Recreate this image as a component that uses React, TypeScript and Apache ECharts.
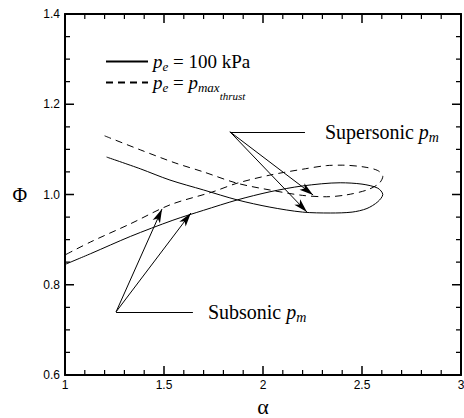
import React, { useEffect, useRef } from "react";
import * as echarts from "echarts";

// Curve with p_e = 100 kPa (solid): [alpha, Phi]
const solidCurve: number[][] = [
  [1.21, 1.083], [1.38, 1.057], [1.53, 1.032], [1.70, 1.010], [1.87, 0.988],
  [2.035, 0.972], [2.20, 0.961], [2.34, 0.959], [2.45, 0.961], [2.525, 0.969],
  [2.58, 0.984], [2.605, 1.0], [2.58, 1.014], [2.50, 1.023], [2.39, 1.026],
  [2.20, 1.019], [2.035, 1.006], [1.87, 0.988], [1.70, 0.965], [1.545, 0.943],
  [1.33, 0.907], [1.13, 0.869], [1.0, 0.845],
];

// Curve with p_e = p_max_thrust (dashed)
const dashedCurve: number[][] = [
  [1.20, 1.130], [1.38, 1.099], [1.556, 1.070], [1.70, 1.050], [1.869, 1.025],
  [2.035, 1.010], [2.20, 0.998], [2.32, 0.995], [2.42, 0.999], [2.525, 1.010],
  [2.585, 1.024], [2.605, 1.040], [2.58, 1.053], [2.51, 1.061], [2.40, 1.065],
  [2.32, 1.064], [2.20, 1.056], [2.035, 1.043], [1.869, 1.025], [1.747, 1.006],
  [1.53, 0.977], [1.33, 0.935], [1.13, 0.895], [1.0, 0.866],
];

// Annotations: origin, leader end, arrow tips
const superOrigin = [1.833, 1.139];
const superLeaderEnd = [2.212, 1.139];
const superTips = [[2.222, 0.961], [2.253, 0.999]];
const subOrigin = [1.258, 0.74];
const subLeaderEnd = [1.646, 0.74];
const subTips = [[1.49, 0.968], [1.636, 0.959]];

// Ticks and tick labels
const xTickValues = [1, 1.5, 2, 2.5, 3];
const xTickLabels = ["1", "1.5", "2", "2.5", "3"];
const xMinorTicks = [1.1, 1.2, 1.3, 1.4, 1.6, 1.7, 1.8, 1.9, 2.1, 2.2, 2.3, 2.4, 2.6, 2.7, 2.8, 2.9];
const yTickValues = [0.6, 0.8, 1.0, 1.2, 1.4];
const yTickLabels = ["0.6", "0.8", "1.0", "1.2", "1.4"];
const yMinorTicks = [0.65, 0.7, 0.75, 0.85, 0.9, 0.95, 1.05, 1.1, 1.15, 1.25, 1.3, 1.35];

const X_MIN = 1, X_MAX = 3, Y_MIN = 0.6, Y_MAX = 1.4;

const seriesNames = ["pe100", "pemax"];

const SERIF = "Liberation Serif";
const SANS = "Liberation Sans";

// plot box (px)
const G_LEFT = 65, G_RIGHT = 3, G_TOP = 14, G_BOTTOM = 43;
const G_W = 464 - G_LEFT - G_RIGHT;
const G_H = 418 - G_TOP - G_BOTTOM;

const lookup = (vals: number[], labels: string[]) => (v: number) => {
  const i = vals.findIndex((t) => Math.abs(t - v) < 1e-6);
  return i >= 0 ? labels[i] : "";
};

const LH = 15;
const rich = (size: number) => {
  const sF = Math.round(size * 0.68);
  const ssF = Math.round(size * 0.58);
  return {
    t: { fontFamily: SERIF, fontSize: size, lineHeight: LH, color: "#000" },
    i: { fontFamily: SERIF, fontSize: size, lineHeight: LH, fontStyle: "italic", color: "#000" },
    s: {
      fontFamily: SERIF, fontSize: sF, lineHeight: 1, fontStyle: "italic", color: "#000",
      verticalAlign: "top", padding: [Math.round(LH / 2 + 0.26 * size - sF / 2), 0, 0, 0],
    },
    ss: {
      fontFamily: SERIF, fontSize: ssF, lineHeight: 1, fontStyle: "italic", color: "#000",
      verticalAlign: "top", padding: [Math.round(LH / 2 + 0.68 * size - ssF / 2), 0, 0, 0],
    },
  };
};

// tick segments as broken polylines in data space (lengths from pixel sizes)
const tickData = (xs: number[], ys: number[], lenPx: number) => {
  const ly = (lenPx * (Y_MAX - Y_MIN)) / G_H;
  const lx = (lenPx * (X_MAX - X_MIN)) / G_W;
  const out: any[] = [];
  xs.forEach((v) => {
    out.push([v, Y_MIN], [v, Y_MIN + ly], [v, "-"]);
    out.push([v, Y_MAX], [v, Y_MAX - ly], [v, "-"]);
  });
  ys.forEach((v) => {
    out.push([X_MIN, v], [X_MIN + lx, v], ["-", v]);
    out.push([X_MAX, v], [X_MAX - lx, v], ["-", v]);
  });
  return out;
};

export default function App() {
  const ref = useRef<HTMLDivElement>(null);
  useEffect(() => {
    if (!ref.current) return;
    const chart = echarts.init(ref.current, null, { renderer: "svg" });

    const axisCommon = (isX: boolean, show: boolean) => ({
      type: "value" as const,
      min: isX ? X_MIN : Y_MIN,
      max: isX ? X_MAX : Y_MAX,
      interval: isX ? 0.5 : 0.2,
      axisLine: { show: true, onZero: false, lineStyle: { color: "#000", width: 2 } },
      axisTick: { show: false },
      minorTick: { show: false },
      splitLine: { show: false },
      minorSplitLine: { show: false },
      axisLabel: {
        show,
        color: "#000",
        fontFamily: SANS,
        fontSize: 12,
        margin: isX ? 4 : 5,
        formatter: isX ? lookup(xTickValues, xTickLabels) : lookup(yTickValues, yTickLabels),
      },
    });

    const arrowLine = (from: number[], to: number[]) => [
      { coord: from, symbol: "none" },
      { coord: to, symbol: "arrow" },
    ];
    const leaderLine = (from: number[], to: number[], text: string, dist: number) => [
      {
        coord: from,
        symbol: "none",
        label: {
          show: true,
          position: "end",
          distance: dist,
          formatter: text,
          rich: rich(20),
        },
      },
      { coord: to, symbol: "none" },
    ];

    const tickSeries = (name: string, data: any[], width: number) => ({
      name,
      type: "line",
      data,
      showSymbol: false,
      symbol: "none",
      silent: true,
      clip: false,
      connectNulls: false,
      smooth: false,
      z: 5,
      lineStyle: { color: "#000", width, type: "solid" },
      itemStyle: { color: "#000" },
      emphasis: { disabled: true },
    });

    chart.setOption({
      animation: false,
      backgroundColor: "#fff",
      grid: { left: G_LEFT, right: G_RIGHT, top: G_TOP, bottom: G_BOTTOM, containLabel: false, outerBoundsMode: "none" },
      xAxis: [
        {
          ...axisCommon(true, true),
          position: "bottom",
          name: "α",
          nameLocation: "middle",
          nameGap: 22,
          nameTextStyle: { fontFamily: SERIF, fontSize: 22, lineHeight: 18, color: "#000" },
        },
        { ...axisCommon(true, false), position: "top" },
      ],
      yAxis: [
        {
          ...axisCommon(false, true),
          position: "left",
          name: "Φ",
          nameLocation: "middle",
          nameRotate: 0,
          nameGap: 38,
          nameTextStyle: { fontFamily: SERIF, fontSize: 20, color: "#000" },
        },
        { ...axisCommon(false, false), position: "right" },
      ],
      legend: {
        show: true,
        orient: "vertical",
        left: 100,
        top: 47,
        itemWidth: 42,
        itemHeight: 14,
        itemGap: 0,
        data: seriesNames,
        itemStyle: { opacity: 0, color: "transparent", borderWidth: 0 },
        formatter: (name: string) =>
          name === "pe100"
            ? "{i|p}{s|e}{t| = 100 kPa}"
            : "{i|p}{s|e}{t| = }{i|p}{s|max}{ss|thrust}",
        textStyle: { rich: rich(19) },
      },
      series: [
        {
          name: seriesNames[0],
          type: "line",
          data: solidCurve,
          showSymbol: false,
          symbol: "none",
          smooth: 0.3,
          lineStyle: { color: "#000", width: 1, type: "solid" },
          itemStyle: { color: "#000" },
          markLine: {
            silent: true,
            symbolSize: [6, 14],
            lineStyle: { color: "#000", width: 1, type: "solid" },
            itemStyle: { color: "#000" },
            label: { show: false },
            emphasis: { disabled: true },
            data: [
              leaderLine(superOrigin, superLeaderEnd, "{t|Supersonic }{i|p}{s|m}", 20),
              ...superTips.map((t) => arrowLine(superOrigin, t)),
              leaderLine(subOrigin, subLeaderEnd, "{t|Subsonic }{i|p}{s|m}", 15),
              ...subTips.map((t) => arrowLine(subOrigin, t)),
            ],
          },
        },
        {
          name: seriesNames[1],
          type: "line",
          data: dashedCurve,
          showSymbol: false,
          symbol: "none",
          smooth: 0.3,
          lineStyle: { color: "#000", width: 1, type: [7, 5] },
          itemStyle: { color: "#000" },
        },
        tickSeries("majorTicks", tickData(xTickValues, yTickValues, 9), 1.5),
        tickSeries("minorTicks", tickData(xMinorTicks, yMinorTicks, 5), 1.2),
      ],
    });

    return () => chart.dispose();
  }, []);
  return <div ref={ref} style={{ width: 464, height: 418, position: "absolute", left: 0, top: 0 }} />;
}
